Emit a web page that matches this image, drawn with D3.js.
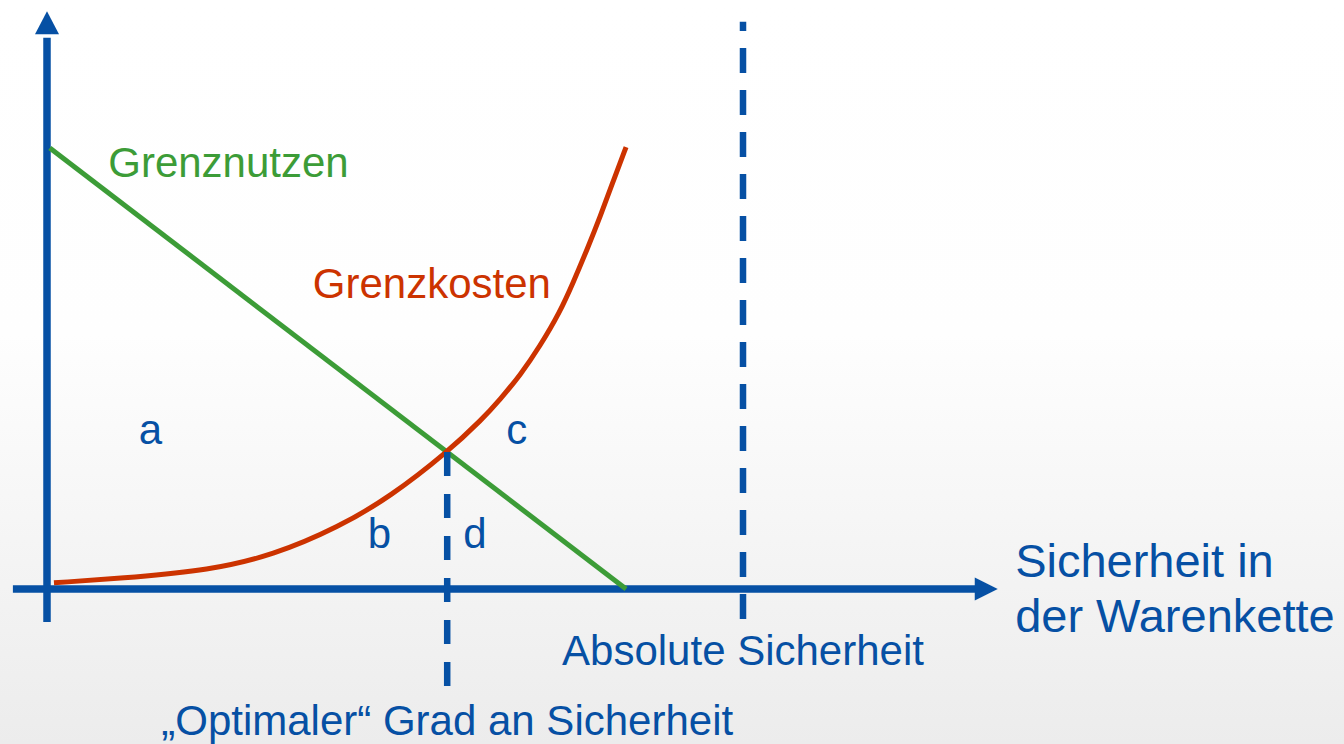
<!DOCTYPE html>
<html>
<head>
<meta charset="utf-8">
<script src="https://cdn.jsdelivr.net/npm/d3@7"></script>
<style>
  html, body { margin: 0; padding: 0; }
  body { width: 1344px; height: 744px; overflow: hidden; }
  text { font-family: "Liberation Sans", Arial, sans-serif; font-size: 42px; }
</style>
</head>
<body>
<div id="chart"></div>
<script>
// curve samples (x = Sicherheit, y = Nutzen/Kosten)
const kostenX = [1, 13, 23, 32.5, 42, 49.3, 57.5, 62.6, 65.1, 68, 70.8, 73.7, 75.6, 77.6, 79.5, 81.3, 83.2];
const kostenY = [1.4, 2.7, 4.2, 7.6, 14.1, 20.9, 31, 38.6, 43, 48.5, 55, 62.8, 69.5, 77, 84.5, 92.3, 100.2];
const nutzenX = [0.4, 83.2];
const nutzenY = [100, 0];
const optimum = 57.5;
const absolut = 100;
const areaLabels = ["a", "b", "c", "d"];
const axisLabel = ["Sicherheit in", "der Warenkette"];
const optimumLabel = "\u201EOptimaler\u201C Grad an Sicherheit";
const absolutLabel = "Absolute Sicherheit";
const curveLabels = ["Grenznutzen", "Grenzkosten"];

const blue = "#0650a4", green = "#3c9c37", red = "#cc3300";
const width = 1344, height = 744;

const svg = d3.select("#chart")
  .append("svg")
    .attr("width", width)
    .attr("height", height);

// soft gray fade like the slide background
const grad = svg.append("defs").append("linearGradient")
    .attr("id", "bg").attr("x1", 0).attr("y1", 0).attr("x2", 0).attr("y2", 1);
grad.append("stop").attr("offset", "0%").attr("stop-color", "#ffffff");
grad.append("stop").attr("offset", "45%").attr("stop-color", "#fefefe");
grad.append("stop").attr("offset", "100%").attr("stop-color", "#ececec");
svg.append("rect").attr("width", width).attr("height", height).attr("fill", "url(#bg)");

const x = d3.scaleLinear().domain([0, 100]).range([47, 743]);
const y = d3.scaleLinear().domain([0, 100]).range([589, 148]);

// axes
svg.append("line")
    .attr("x1", x(0)).attr("x2", x(0))
    .attr("y1", y(-7.5)).attr("y2", y(125))
    .attr("stroke", blue).attr("stroke-width", 7.5);
svg.append("path")
    .attr("d", `M${x(0)},${y(131)} L${x(0) - 12},${y(125.8)} L${x(0) + 12},${y(125.8)} Z`)
    .attr("fill", blue);

svg.append("line")
    .attr("x1", x(-4.9)).attr("x2", x(134))
    .attr("y1", y(0)).attr("y2", y(0))
    .attr("stroke", blue).attr("stroke-width", 7.5);
svg.append("path")
    .attr("d", `M${x(136.6)},${y(0)} L${x(133.3)},${y(0) - 11.5} L${x(133.3)},${y(0) + 11.5} Z`)
    .attr("fill", blue);

// dashed markers
svg.append("line")
    .attr("x1", x(absolut)).attr("x2", x(absolut))
    .attr("y1", y(-6.8)).attr("y2", y(128.6))
    .attr("stroke", blue).attr("stroke-width", 6.5)
    .attr("stroke-dasharray", "25 17");

const nutzenAtOpt = d3.scaleLinear().domain(nutzenX).range(nutzenY)(optimum);

// curves
const line = d3.line()
    .x(d => x(d[0]))
    .y(d => y(d[1]));

svg.append("path")
    .datum(nutzenX.map((v, i) => [v, nutzenY[i]]))
    .attr("fill", "none")
    .attr("stroke", green)
    .attr("stroke-width", 5)
    .attr("d", line);

svg.append("path")
    .datum(kostenX.map((v, i) => [v, kostenY[i]]))
    .attr("fill", "none")
    .attr("stroke", red)
    .attr("stroke-width", 5)
    .attr("d", line.curve(d3.curveBasis));

svg.append("line")
    .attr("x1", x(optimum)).attr("x2", x(optimum))
    .attr("y1", y(nutzenAtOpt)).attr("y2", y(-22.2))
    .attr("stroke", blue).attr("stroke-width", 6.5)
    .attr("stroke-dasharray", "24 18");

// texts
svg.append("text").attr("x", x(8.8)).attr("y", y(93.4))
    .attr("fill", green).text(curveLabels[0]);
svg.append("text").attr("x", x(38.2)).attr("y", y(66))
    .attr("fill", red).text(curveLabels[1]);

const labelPos = [[13.2, 32.9], [46.1, 9.3], [66, 32.9], [59.8, 9.3]];
svg.selectAll(".area-label")
  .data(areaLabels)
  .join("text")
    .attr("class", "area-label")
    .attr("x", (d, i) => x(labelPos[i][0]))
    .attr("y", (d, i) => y(labelPos[i][1]))
    .attr("fill", blue)
    .text(d => d);

svg.selectAll(".axis-label")
  .data(axisLabel)
  .join("text")
    .attr("class", "axis-label")
    .attr("x", x(139.1))
    .attr("y", (d, i) => y(2.7) + i * 55)
    .attr("fill", blue)
    .style("font-size", "47px")
    .text(d => d);

svg.append("text").attr("x", x(absolut)).attr("y", y(-17.2))
    .attr("text-anchor", "middle").attr("fill", blue).text(absolutLabel);
svg.append("text").attr("x", x(optimum)).attr("y", y(-33.1))
    .attr("text-anchor", "middle").attr("fill", blue).text(optimumLabel);
</script>
</body>
</html>
